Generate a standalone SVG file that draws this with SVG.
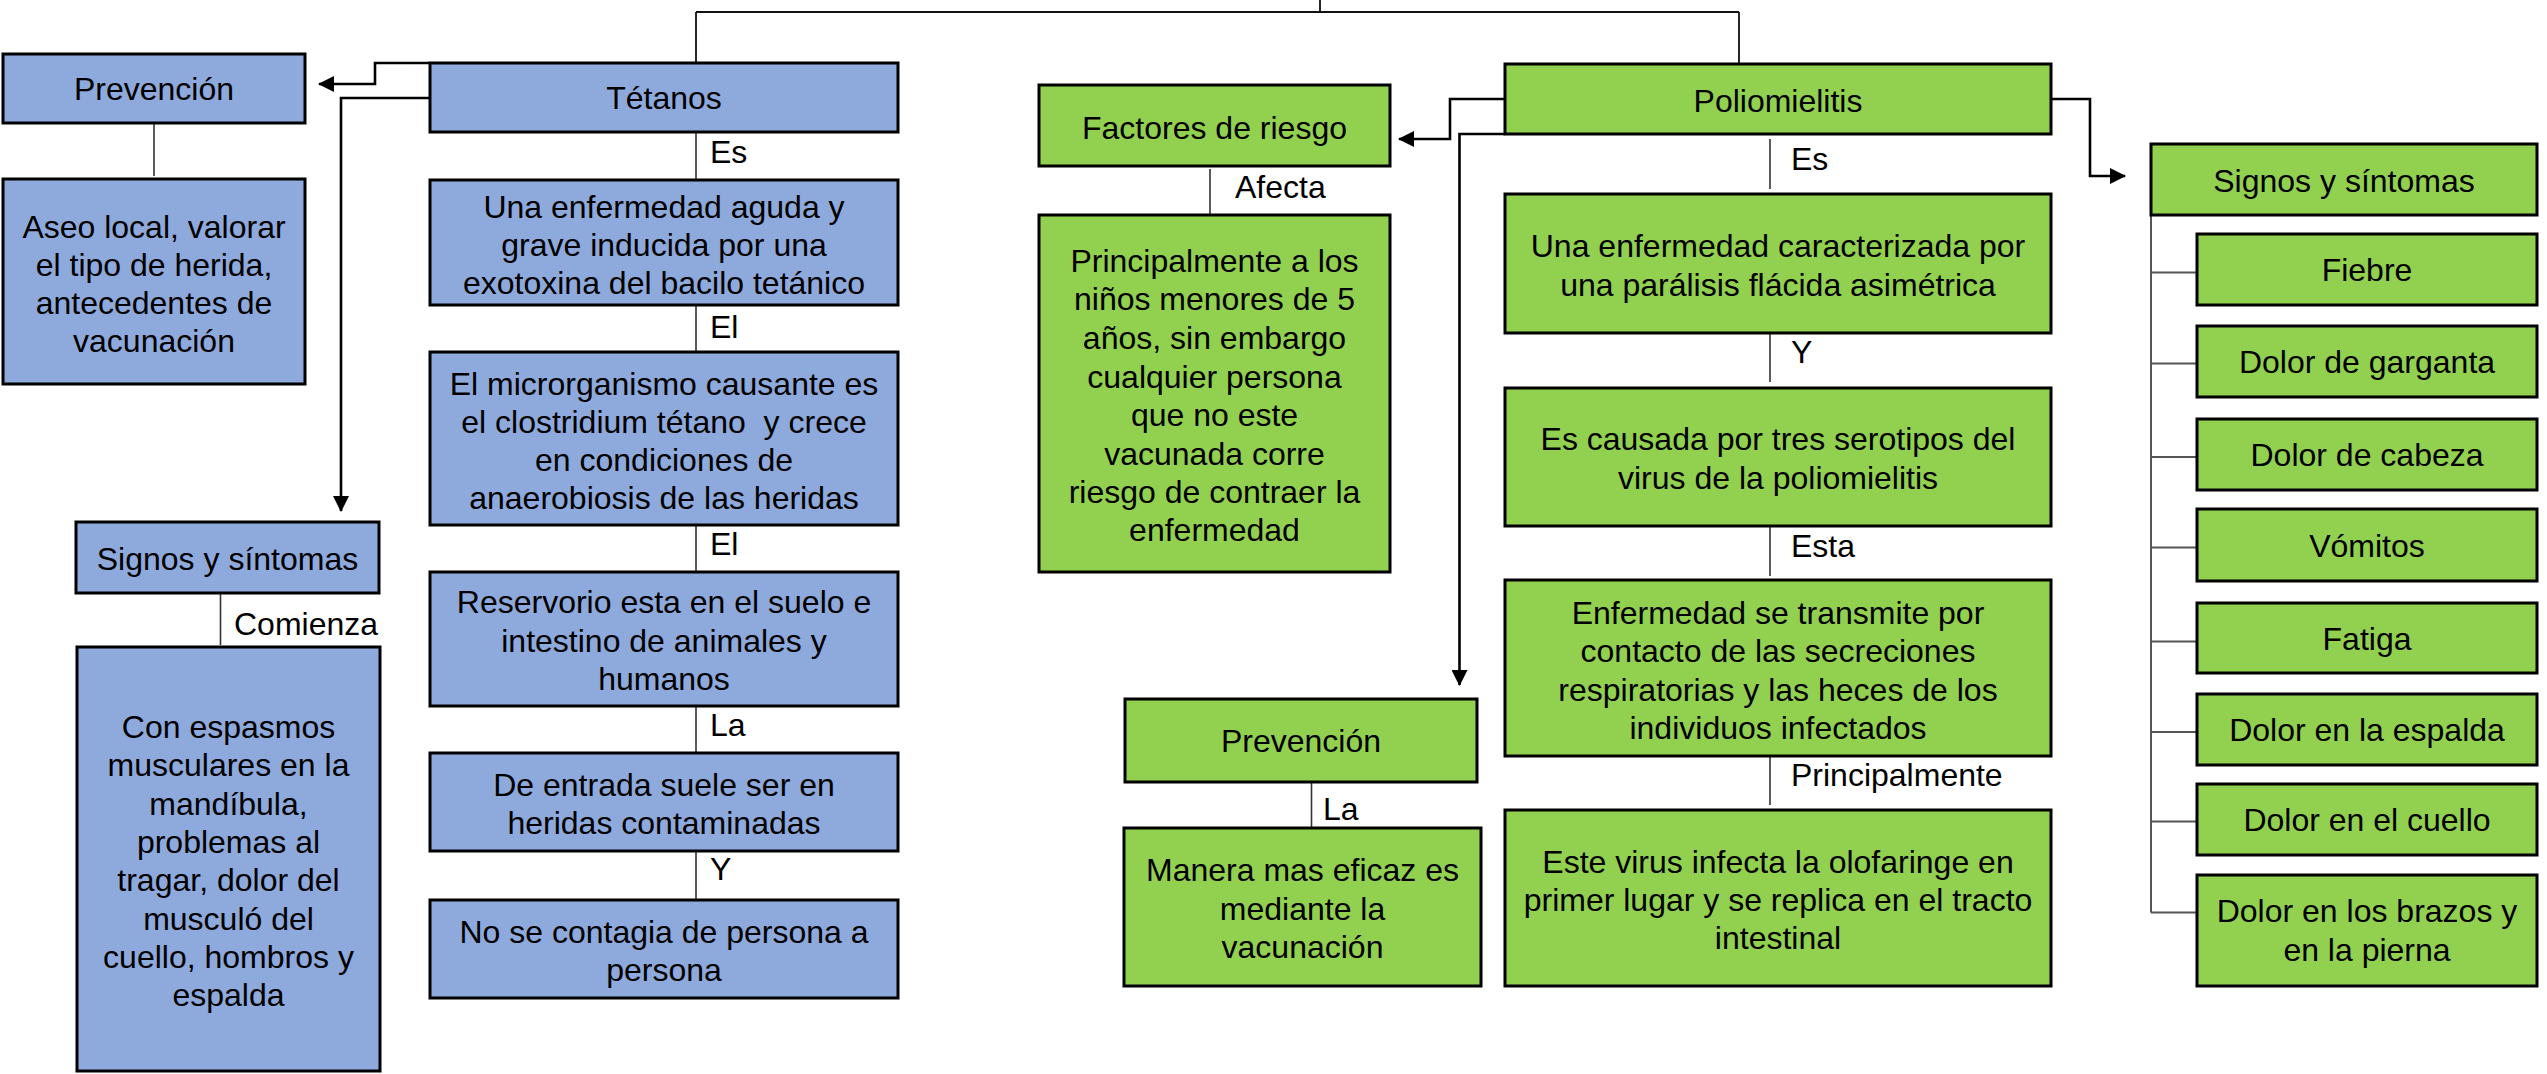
<svg xmlns="http://www.w3.org/2000/svg" width="2547" height="1074" viewBox="0 0 2547 1074">
<style>
.b{fill:#8EA9DB;stroke:#000;stroke-width:3}
.g{fill:#92D050;stroke:#000;stroke-width:3}
text{font-family:"Liberation Sans",Arial,sans-serif;font-size:32px;fill:#000}
.c{text-anchor:middle}
.thin{fill:none;stroke:#333;stroke-width:1.6}
.grey{fill:none;stroke:#555;stroke-width:2}
.thick{fill:none;stroke:#000;stroke-width:2.6}
.top{fill:none;stroke:#111;stroke-width:1.8}
</style>
<defs>
<marker id="ar" markerUnits="userSpaceOnUse" markerWidth="16" markerHeight="16" refX="15" refY="8" orient="auto">
<path d="M0,0 L16,8 L0,16 z" fill="#000"/>
</marker>
</defs>
<rect width="2547" height="1074" fill="#fff"/>

<g id="connectors">
<path class="top" d="M1320,0 V12 M696,12 H1739 M696,12 V63 M1739,12 V64"/>
<path class="thick" d="M430,63 H375 V84 H319" marker-end="url(#ar)"/>
<path class="thick" d="M430,98 H341 V511" marker-end="url(#ar)"/>
<path class="thick" d="M1505,99 H1450 V139 H1399" marker-end="url(#ar)"/>
<path class="thick" d="M1505,134 H1459.5 V685" marker-end="url(#ar)"/>
<path class="thick" d="M2051,99 H2090 V176 H2125" marker-end="url(#ar)"/>
<path class="thin" d="M154,124 V176 M696,132 V180 M696,305 V352 M696,525 V572 M696,706 V753 M696,851 V900 M220.5,593 V645"/>
<path class="thin" d="M1210,169 V214 M1770,139 V189 M1770,333 V382 M1770,526 V576 M1770,756 V805 M1311.5,782 V828"/>
<path class="grey" d="M2151,215 V912.5 M2151,272.5 H2197 M2151,363.5 H2197 M2151,457 H2197 M2151,547.5 H2197 M2151,641.5 H2197 M2151,732 H2197 M2151,821.5 H2197 M2151,912.5 H2197"/>
<text x="710" y="163">Es</text>
<text x="710" y="338">El</text>
<text x="710" y="555">El</text>
<text x="710" y="736">La</text>
<text x="710" y="880">Y</text>
<text x="234" y="635">Comienza</text>
<text x="1235" y="198">Afecta</text>
<text x="1791" y="170">Es</text>
<text x="1791" y="363">Y</text>
<text x="1791" y="557">Esta</text>
<text x="1791" y="786">Principalmente</text>
<text x="1323" y="820">La</text>
</g>

<g id="prevencion-tetanos"><rect class="b" x="3" y="54" width="302" height="69"/><text class="c" x="154" y="100">Prevención</text></g>
<g id="aseo"><rect class="b" x="3" y="179" width="302" height="205"/>
<text class="c" x="154" y="238">Aseo local, valorar</text><text class="c" x="154" y="276">el tipo de herida,</text><text class="c" x="154" y="314">antecedentes de</text><text class="c" x="154" y="352">vacunación</text></g>
<g id="tetanos"><rect class="b" x="430" y="63" width="468" height="69"/><text class="c" x="664" y="109">Tétanos</text></g>
<g id="t1"><rect class="b" x="430" y="180" width="468" height="125"/>
<text class="c" x="664" y="218">Una enfermedad aguda y</text><text class="c" x="664" y="256">grave inducida por una</text><text class="c" x="664" y="294">exotoxina del bacilo tetánico</text></g>
<g id="t2"><rect class="b" x="430" y="352" width="468" height="173"/>
<text class="c" x="664" y="395">El microrganismo causante es</text><text class="c" x="664" y="433" xml:space="preserve">el clostridium tétano  y crece</text><text class="c" x="664" y="471">en condiciones de</text><text class="c" x="664" y="509">anaerobiosis de las heridas</text></g>
<g id="t3"><rect class="b" x="430" y="572" width="468" height="134"/>
<text class="c" x="664" y="613">Reservorio esta en el suelo e</text><text class="c" x="664" y="652">intestino de animales y</text><text class="c" x="664" y="690">humanos</text></g>
<g id="t4"><rect class="b" x="430" y="753" width="468" height="98"/>
<text class="c" x="664" y="796">De entrada suele ser en</text><text class="c" x="664" y="834">heridas contaminadas</text></g>
<g id="t5"><rect class="b" x="430" y="900" width="468" height="98"/>
<text class="c" x="664" y="943">No se contagia de persona a</text><text class="c" x="664" y="981">persona</text></g>
<g id="signos-tetanos"><rect class="b" x="76" y="522" width="303" height="71"/><text class="c" x="227.5" y="570">Signos y síntomas</text></g>
<g id="espasmos"><rect class="b" x="77" y="647" width="303" height="424"/>
<text class="c" x="228.5" y="738">Con espasmos</text><text class="c" x="228.5" y="776">musculares en la</text><text class="c" x="228.5" y="815">mandíbula,</text><text class="c" x="228.5" y="853">problemas al</text><text class="c" x="228.5" y="891">tragar, dolor del</text><text class="c" x="228.5" y="930">musculó del</text><text class="c" x="228.5" y="968">cuello, hombros y</text><text class="c" x="228.5" y="1006">espalda</text></g>

<g id="polio"><rect class="g" x="1505" y="64" width="546" height="70"/><text class="c" x="1778" y="112">Poliomielitis</text></g>
<g id="factores"><rect class="g" x="1039" y="85" width="351" height="81"/><text class="c" x="1214.5" y="139">Factores de riesgo</text></g>
<g id="principal"><rect class="g" x="1039" y="215" width="351" height="357"/>
<text class="c" x="1214.5" y="272">Principalmente a los</text><text class="c" x="1214.5" y="310">niños menores de 5</text><text class="c" x="1214.5" y="349">años, sin embargo</text><text class="c" x="1214.5" y="388">cualquier persona</text><text class="c" x="1214.5" y="426">que no este</text><text class="c" x="1214.5" y="465">vacunada corre</text><text class="c" x="1214.5" y="503">riesgo de contraer la</text><text class="c" x="1214.5" y="541">enfermedad</text></g>
<g id="p1"><rect class="g" x="1505" y="194" width="546" height="139"/>
<text class="c" x="1778" y="257">Una enfermedad caracterizada por</text><text class="c" x="1778" y="296">una parálisis flácida asimétrica</text></g>
<g id="p2"><rect class="g" x="1505" y="388" width="546" height="138"/>
<text class="c" x="1778" y="450">Es causada por tres serotipos del</text><text class="c" x="1778" y="489">virus de la poliomielitis</text></g>
<g id="p3"><rect class="g" x="1505" y="580" width="546" height="176"/>
<text class="c" x="1778" y="624">Enfermedad se transmite por</text><text class="c" x="1778" y="662">contacto de las secreciones</text><text class="c" x="1778" y="701">respiratorias y las heces de los</text><text class="c" x="1778" y="739">individuos infectados</text></g>
<g id="p4"><rect class="g" x="1505" y="810" width="546" height="176"/>
<text class="c" x="1778" y="873">Este virus infecta la olofaringe en</text><text class="c" x="1778" y="911">primer lugar y se replica en el tracto</text><text class="c" x="1778" y="949">intestinal</text></g>
<g id="prevencion-polio"><rect class="g" x="1125" y="699" width="352" height="83"/><text class="c" x="1301" y="752">Prevención</text></g>
<g id="manera"><rect class="g" x="1124" y="828" width="357" height="158"/>
<text class="c" x="1302.5" y="881">Manera mas eficaz es</text><text class="c" x="1302.5" y="920">mediante la</text><text class="c" x="1302.5" y="958">vacunación</text></g>
<g id="signos-polio"><rect class="g" x="2151" y="144" width="386" height="71"/><text class="c" x="2344" y="192">Signos y síntomas</text></g>
<g id="s1"><rect class="g" x="2197" y="234" width="340" height="71"/><text class="c" x="2367" y="281">Fiebre</text></g>
<g id="s2"><rect class="g" x="2197" y="326" width="340" height="71"/><text class="c" x="2367" y="373">Dolor de garganta</text></g>
<g id="s3"><rect class="g" x="2197" y="419" width="340" height="71"/><text class="c" x="2367" y="466">Dolor de cabeza</text></g>
<g id="s4"><rect class="g" x="2197" y="509" width="340" height="72"/><text class="c" x="2367" y="557">Vómitos</text></g>
<g id="s5"><rect class="g" x="2197" y="603" width="340" height="70"/><text class="c" x="2367" y="650">Fatiga</text></g>
<g id="s6"><rect class="g" x="2197" y="694" width="340" height="71"/><text class="c" x="2367" y="741">Dolor en la espalda</text></g>
<g id="s7"><rect class="g" x="2197" y="784" width="340" height="71"/><text class="c" x="2367" y="831">Dolor en el cuello</text></g>
<g id="s8"><rect class="g" x="2197" y="875" width="340" height="111"/><text class="c" x="2367" y="922">Dolor en los brazos y</text><text class="c" x="2367" y="961">en la pierna</text></g>
</svg>
